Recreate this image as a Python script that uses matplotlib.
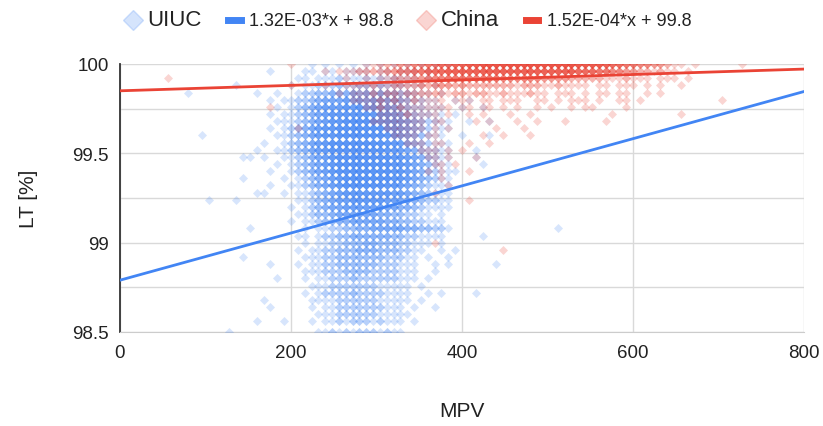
import matplotlib.pyplot as plt
from matplotlib.lines import Line2D
import numpy as np

plt.rcParams['font.family'] = ['Liberation Sans', 'DejaVu Sans']

# LT levels (rows of the scatter), MPV counted in bins of 8
lt_levels = [100.00, 99.96, 99.92, 99.88, 99.84, 99.80, 99.76, 99.72, 99.68, 99.64,
             99.60, 99.56, 99.52, 99.48, 99.44, 99.40, 99.36, 99.32, 99.28, 99.24,
             99.20, 99.16, 99.12, 99.08, 99.04, 99.00, 98.96, 98.92, 98.88, 98.84,
             98.80, 98.76, 98.72, 98.68, 98.64, 98.60, 98.56, 98.50]
mpv_bin = 8

# "start_bin:counts" -> number of points in each MPV bin of that row
uiuc_rows = [
    "28:101010101010101010101",
    "22:1 27:1101101111011011101",
    "26:11011121112121211101",
    "17:1 25:1011222322332322211101",
    "10:1 20:1 23:1 26:1223344454545443321101",
    "22:1 24:11223455565656655432211 49:1 51:1",
    "23:1012345666767676654322111 50:1 53:1",
    "22:10112345677777777765432211 49:1",
    "23:11123456778888877765432211 51:1 54:1",
    "22:101234567788888887765432111",
    "12:1 23:1123456778888888776543211 50:1 54:1",
    "21:1 24:1234567888888887765432111",
    "20:1 23:11234567888888887765432211 52:1",
    "18:1 19:1 21:1 24:1123456788888888776543211 52:1",
    "23:1 25:123456788888888776543211 53:1",
    "22:1 25:1234567888888887765432111",
    "18:1 24:1012345678888888776543211",
    "22:1 25:112345678888887765432111",
    "20:1 21:1 24:1011234567777777665432111",
    "13:1 17:1 26:11234566777776655432211",
    "25:101234556666665544321111",
    "26:1123345555554433221101",
    "25:10112334455555443322111",
    "19:1 27:1011223344555554433221 64:1",
    "26:1101223344444433221111 53:1",
    "27:101122333443332211101",
    "26:1011223334443332211 47:1 49:1",
    "18:1 27:1112233333332221101 48:1",
    "22:1 26:101122333333222111 46:1 48:1 55:1",
    "27:11122233332222111 46:1",
    "23:1 27:1011222322222211101",
    "28:11122222221111101",
    "27:1012222322221111 45:1 47:1 52:1",
    "21:1 28:11112222221111101",
    "22:1 28:1011222222211101 46:1",
    "29:11122222211111",
    "20:1 24:1 28:1011212221211101",
    "16:1 29:1121212221211",
]

china_rows = [
    "25:1 36:1122233445566778899999999999999888876655443321101 91:1",
    "30:101112222334455666777777777777777777766655443322121101",
    "7:1 33:1 36:101122233444555555554444443333222221112111011101",
    "25:1 30:100111121122223233323222222212221121111011011101 78:01001",
    "32:101112122122222212212211211121101110101101100101",
    "34:111121211211110111011011100110101110 70:1001101 88:1",
    "22:1 36:112112111111101101101010010100101100 74:1",
    "38:1111211110100101 57:1 60:1 72:1 82:1",
    "37:11111111011 52:1 54:1 58:1 61:1 65:1 71:1",
    "26:1 39:1111110101 55:1 59:1",
    "40:1111011 53:1 56:1 60:1",
    "42:111011 51:1 54:1",
    "44:11101 50:1",
    "45:1101 52:1",
    "46:11 49:1",
    "45:101 51:1",
    "47:1",
    "48:1",
    "46:1",
    "51:1",
    "", "", "", "", "",
    "46:1",
    "56:1",
    "", "", "", "", "", "", "", "", "", "", "",
]

# trendlines shown in the legend
uiuc_slope, uiuc_icpt = 1.32e-3, 98.79
china_slope, china_icpt = 1.52e-4, 99.85
trend_x = [0, 800]

blue = '#4285F4'
red = '#EA4335'


def expand(rows):
    xs, ys = [], []
    for lt, row in zip(lt_levels, rows):
        for seg in row.split():
            start, counts = seg.split(':')
            for i, ch in enumerate(counts):
                xs += [(int(start) + i) * mpv_bin] * int(ch)
                ys += [lt] * int(ch)
    return np.array(xs), np.array(ys)


ux, uy = expand(uiuc_rows)
cx, cy = expand(china_rows)

fig = plt.figure(figsize=(8.23, 4.27), dpi=100)
ax = fig.add_axes([120 / 823, 1 - 333 / 427, 684 / 823, 268 / 427])

ax.scatter(ux, uy, marker='D', s=21, color=blue, alpha=0.21, linewidths=0, zorder=3)
ax.scatter(cx, cy, marker='D', s=21, color=red, alpha=0.22, linewidths=0, zorder=4)

tx = np.array(trend_x)
ax.plot(tx, uiuc_slope * tx + uiuc_icpt, color=blue, lw=2, zorder=5)
ax.plot(tx, china_slope * tx + china_icpt, color=red, lw=2, zorder=5)

ax.set_xlim(0, 800)
ax.set_ylim(98.5, 100)
ax.set_xticks([0, 200, 400, 600, 800])
ax.set_yticks([98.5, 99, 99.5, 100])
ax.set_yticklabels(['98.5', '99', '99.5', '100'])
ax.set_yticks([98.75, 99.25, 99.75], minor=True)
ax.grid(True, which='both', color='#d9d9d9', lw=1, zorder=0)
ax.tick_params(which='both', length=0, labelsize=13.5, labelcolor='#222222')
ax.tick_params(axis='y', pad=8)
ax.tick_params(axis='x', pad=9)
for s in ['top', 'right']:
    ax.spines[s].set_visible(False)
ax.spines['bottom'].set_color('#cccccc')
ax.spines['left'].set_color('#333333')
ax.spines['left'].set_linewidth(1.3)

ax.set_xlabel('MPV', fontsize=15, color='#222222')
ax.set_ylabel('LT [%]', fontsize=15, color='#222222')
ax.xaxis.set_label_coords(0.5, -0.258)
ax.yaxis.set_label_coords(-0.12, 0.5)

handles = [
    Line2D([], [], marker='D', ls='none', color=blue, alpha=0.22, markersize=10),
    Line2D([], [], color=blue, lw=5),
    Line2D([], [], marker='D', ls='none', color=red, alpha=0.22, markersize=10),
    Line2D([], [], color=red, lw=5),
]
labels = ['UIUC', '1.32E-03*x + 98.8', 'China', '1.52E-04*x + 99.8']
leg = fig.legend(handles, labels, loc='center', bbox_to_anchor=(409 / 823, 1 - 20 / 427),
                 ncol=4, frameon=False, handlelength=0.9, handletextpad=0.6,
                 columnspacing=1.9)
for t, fs in zip(leg.get_texts(), [16, 13, 16, 13]):
    t.set_fontsize(fs)
    t.set_color('#222222')

fig.savefig('out.png', dpi=100)
